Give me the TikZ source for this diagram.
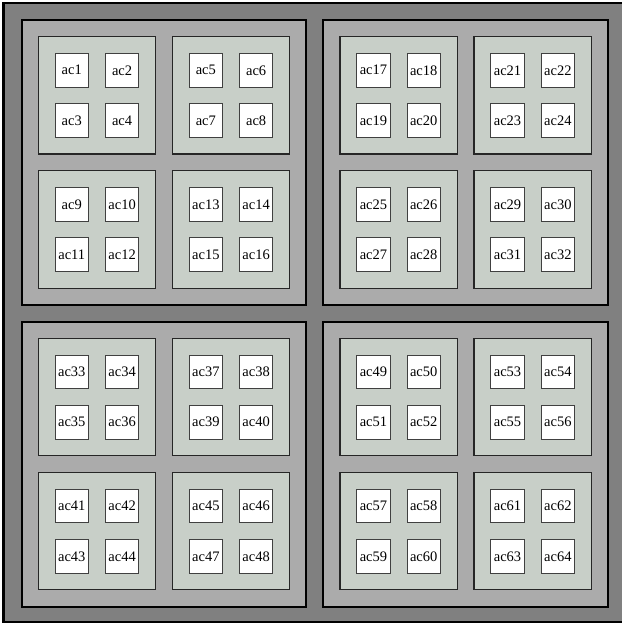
\documentclass[tikz,border=0pt]{standalone}
\usepackage{fontspec}
\setmainfont{Liberation Serif}
\definecolor{outerg}{HTML}{808080}
\definecolor{quadg}{HTML}{ABABAB}
\definecolor{subg}{HTML}{C8CFC8}
\definecolor{leafb}{HTML}{404040}
\tikzset{
  outerbox/.style={draw=black, fill=outerg, line width=2.5pt},
  quadbox/.style={draw=black, fill=quadg, line width=2pt, minimum width=284.9pt, minimum height=284.9pt, inner sep=0pt},
  subbox/.style={draw=black!85, fill=subg, line width=1.2pt, minimum width=117.3pt, minimum height=117.3pt, inner sep=0pt},
  leafbox/.style={draw=leafb, fill=white, line width=0.9pt, minimum width=33.5pt, minimum height=33.5pt, inner sep=0pt, font=\fontsize{14.5}{16}\selectfont}
}
\begin{document}
\begin{tikzpicture}[x=1pt,y=-1pt]
\useasboundingbox (0,0) rectangle (621,626);
\draw[outerbox] (3.5,3) rectangle (623.5,622);
\def\u{16.76}
\foreach \qi in {0,1} {
  \foreach \qj in {0,1} {
    \pgfmathsetmacro\qx{21.5+18*\u*\qj}
    \pgfmathsetmacro\qy{20+18*\u*\qi}
    \pgfmathtruncatemacro\qn{2*\qi+\qj+1}
    \node[quadbox] (q\qn) at ({\qx+8.5*\u},{\qy+8.5*\u}) {};
    \foreach \si in {0,1} {
      \foreach \sj in {0,1} {
        \pgfmathsetmacro\sx{\qx+\u+8*\u*\sj}
        \pgfmathsetmacro\sy{\qy+\u+8*\u*\si}
        \pgfmathtruncatemacro\sn{4*(\qn-1)+2*\si+\sj+1}
        \node[subbox] (s\sn) at ({\sx+3.5*\u},{\sy+3.5*\u}) {};
        \foreach \li in {0,1} {
          \foreach \lj in {0,1} {
            \pgfmathtruncatemacro\n{4*(\sn-1)+2*\li+\lj+1}
            \node[leafbox] (ac\n) at ({\sx+\u+3*\u*\lj+\u},{\sy+\u+3*\u*\li+\u}) {ac\n};
          }
        }
      }
    }
  }
}
\end{tikzpicture}
\end{document}
